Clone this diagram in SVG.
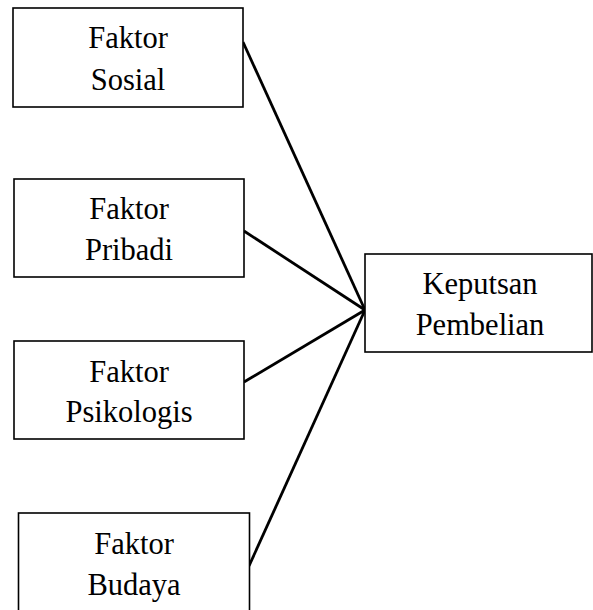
<svg xmlns="http://www.w3.org/2000/svg" width="593" height="610" viewBox="0 0 593 610">
<style>
.box{fill:#fff;stroke:#000;stroke-width:1.6}
.t{font-family:'Liberation Serif','Times New Roman',Times,serif;font-size:30.5px;fill:#000;text-anchor:middle}
.c line{stroke:#000;stroke-width:2.8;stroke-linecap:butt}
</style>
<rect width="593" height="610" fill="#fff"/>
<g id="connectors" class="c">
<line x1="243" y1="42" x2="365" y2="310"/>
<line x1="244" y1="231" x2="365" y2="310"/>
<line x1="244" y1="382" x2="365" y2="310"/>
<line x1="249" y1="566" x2="365" y2="310"/>
</g>
<g id="sosial">
<rect class="box" x="13" y="8" width="230" height="99"/>
<text class="t" x="128" y="48">Faktor</text>
<text class="t" x="128" y="90">Sosial</text>
</g>
<g id="pribadi">
<rect class="box" x="14" y="179" width="230" height="98"/>
<text class="t" x="129" y="219">Faktor</text>
<text class="t" x="129" y="260">Pribadi</text>
</g>
<g id="psikologis">
<rect class="box" x="14" y="341" width="230" height="98"/>
<text class="t" x="129" y="382">Faktor</text>
<text class="t" x="129" y="422">Psikologis</text>
</g>
<g id="budaya">
<rect class="box" x="18.5" y="513" width="231" height="110"/>
<text class="t" x="134" y="554">Faktor</text>
<text class="t" x="134" y="595">Budaya</text>
</g>
<g id="keputusan">
<rect class="box" x="365" y="254" width="227" height="98"/>
<text class="t" x="480" y="294">Keputsan</text>
<text class="t" x="480" y="335">Pembelian</text>
</g>
</svg>
